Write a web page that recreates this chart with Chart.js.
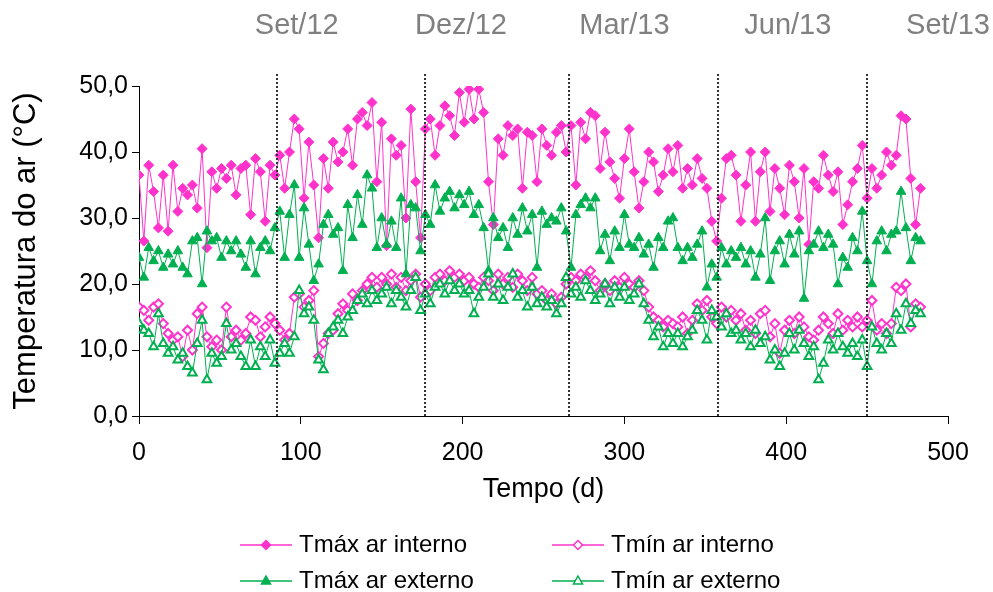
<!DOCTYPE html>
<html>
<head>
<meta charset="utf-8">
<script src="https://cdn.jsdelivr.net/npm/chart.js"></script>
<style>
  html, body { margin: 0; padding: 0; background: #fff; }
  #caixa { width: 993px; height: 592px; position: relative; }
</style>
</head>
<body>
<div id="caixa"><canvas id="grafico"></canvas></div>
<script>
// dias desde o início (amostra a cada 3 dias)
const dias = [
  0,3,6,9,12,15,18,21,24,27,
  30,33,36,39,42,45,48,51,54,57,
  60,63,66,69,72,75,78,81,84,87,
  90,93,96,99,102,105,108,111,114,117,
  120,123,126,129,132,135,138,141,144,147,
  150,153,156,159,162,165,168,171,174,177,
  180,183,186,189,192,195,198,201,204,207,
  210,213,216,219,222,225,228,231,234,237,
  240,243,246,249,252,255,258,261,264,267,
  270,273,276,279,282,285,288,291,294,297,
  300,303,306,309,312,315,318,321,324,327,
  330,333,336,339,342,345,348,351,354,357,
  360,363,366,369,372,375,378,381,384,387,
  390,393,396,399,402,405,408,411,414,417,
  420,423,426,429,432,435,438,441,444,447,
  450,453,456,459,462,465,468,471,474,477,
  480,483
];

// temperatura máxima do ar interno (°C)
const tmaxInterno = [
  36.5,26.5,38.0,34.0,28.5,36.5,28.0,38.0,31.0,34.5,
  33.5,35.0,31.5,40.5,25.5,37.0,34.5,37.5,36.0,38.0,
  33.5,37.5,38.0,30.5,39.0,37.0,29.5,38.0,36.5,39.5,
  34.5,40.0,45.0,43.5,33.0,41.5,35.0,27.0,39.0,34.5,
  41.5,38.5,40.0,43.5,38.0,45.0,46.0,44.0,47.5,35.5,
  44.5,25.8,42.0,39.5,41.0,30.0,46.5,35.5,27.0,43.5,
  45.0,39.5,44.0,47.0,45.5,42.5,49.0,44.5,49.5,45.0,
  49.5,46.0,35.5,29.0,42.0,39.5,44.0,42.5,43.5,34.5,
  43.0,42.5,35.5,43.5,41.0,39.5,43.0,44.0,40.0,44.0,
  35.0,44.5,42.0,46.0,45.5,37.5,43.0,38.5,36.0,33.0,
  39.0,43.5,37.0,31.5,35.5,40.0,38.5,34.0,36.5,40.5,
  37.0,41.0,34.5,37.5,35.0,39.0,36.0,34.5,29.5,26.5,
  33.0,39.0,39.5,36.5,29.5,35.0,40.0,29.5,37.0,40.0,
  31.0,37.5,34.5,30.5,38.0,35.5,30.0,37.5,26.0,35.5,
  34.5,39.5,36.5,34.0,37.0,29.0,32.0,35.5,37.5,41.0,
  33.0,37.5,34.5,36.5,40.0,38.0,39.5,45.5,45.0,36.0,
  29.0,34.5
];

// temperatura mínima do ar interno (°C)
const tminInterno = [
  16.5,16.0,14.5,16.5,17.0,14.0,12.5,11.5,12.0,9.0,
  13.0,10.0,15.5,16.5,12.0,10.5,11.5,10.0,16.5,12.0,
  13.0,11.5,12.5,15.0,14.5,12.0,13.5,15.0,14.0,13.0,
  11.5,12.5,18.0,18.5,16.5,17.5,19.0,9.0,11.0,12.5,
  13.0,15.5,17.0,16.0,18.5,17.5,19.0,20.0,21.0,19.5,
  21.0,20.0,21.5,19.5,21.0,19.0,20.5,21.5,18.0,20.0,
  19.0,21.0,21.5,20.5,22.0,21.0,21.5,20.5,21.0,20.0,
  19.5,21.0,20.5,19.0,21.5,20.0,21.0,19.5,21.5,20.5,
  19.0,21.0,18.5,19.0,17.5,18.5,17.0,18.0,20.0,21.0,
  20.5,21.5,21.0,22.0,20.5,19.0,20.0,19.0,20.5,19.5,
  21.0,20.0,19.5,20.5,19.0,16.5,15.0,14.5,13.5,14.5,
  14.0,13.5,15.0,12.5,14.5,17.0,16.0,17.5,15.0,14.0,
  16.5,15.0,16.0,14.5,15.5,13.0,14.5,12.5,15.5,16.0,
  12.0,14.0,9.5,13.0,14.5,12.5,15.0,13.5,12.0,11.5,
  13.0,15.0,14.0,12.5,15.5,13.0,14.5,13.5,15.0,13.5,
  14.5,17.5,13.0,14.0,12.5,14.0,19.5,19.0,20.0,13.5,
  17.0,16.5
];

// temperatura máxima do ar externo (°C)
const tmaxExterno = [
  24.0,21.0,25.5,23.5,25.0,22.5,24.5,23.0,25.0,22.5,
  21.5,26.5,27.0,20.0,28.0,26.5,27.0,24.0,26.5,25.0,
  26.5,24.5,22.5,26.5,21.5,25.5,26.5,25.0,28.5,31.0,
  24.0,30.5,35.0,24.0,31.5,26.0,20.5,23.0,29.0,30.5,
  27.5,28.5,22.0,32.0,27.0,33.5,29.0,36.5,34.5,25.5,
  30.0,26.0,29.5,25.5,33.0,21.5,32.0,31.5,25.0,30.5,
  29.0,35.0,31.0,33.0,34.0,31.5,33.5,32.0,34.0,30.5,
  32.0,28.5,22.0,30.0,27.0,28.5,25.5,30.0,27.5,31.5,
  28.0,30.5,22.5,31.0,29.0,30.0,29.5,31.5,28.0,22.5,
  30.5,32.0,33.0,31.5,33.0,25.0,27.5,23.5,28.0,25.5,
  30.5,26.0,25.5,27.0,24.5,26.0,22.5,27.0,25.5,29.5,
  30.0,25.5,23.5,25.5,24.0,26.0,28.0,19.5,23.0,21.0,
  25.5,23.0,25.0,24.0,25.5,23.0,25.0,21.0,24.5,30.0,
  20.5,25.0,26.5,23.0,27.5,24.5,28.0,17.8,25.0,26.0,
  28.0,25.5,27.5,26.0,20.0,24.0,22.5,27.0,25.0,31.0,
  23.5,20.0,26.5,28.0,25.0,27.5,28.0,34.0,28.5,23.5,
  27.0,26.5
];

// temperatura mínima do ar externo (°C)
const tminExterno = [
  14.0,13.0,12.5,10.5,15.5,11.0,9.5,10.5,8.5,9.5,
  7.5,6.5,11.0,14.5,5.5,9.5,8.0,9.0,14.0,10.0,
  11.0,9.0,7.5,11.5,7.5,10.5,9.0,11.5,8.0,9.5,
  11.0,9.5,12.0,19.0,15.5,16.5,14.5,8.5,7.0,12.5,
  13.5,14.5,12.5,15.0,16.0,17.5,18.5,17.0,19.0,17.5,
  18.5,19.5,17.0,19.0,18.0,16.5,19.0,21.0,16.0,18.5,
  17.0,19.5,20.0,18.5,20.5,19.0,20.0,18.5,19.0,15.5,
  18.0,19.5,21.5,18.0,20.0,17.5,19.5,21.5,18.0,19.0,
  16.5,19.5,17.0,18.0,16.5,17.5,15.5,17.0,21.0,18.5,
  19.5,18.0,20.5,19.0,17.5,18.5,20.0,17.0,19.5,18.0,
  19.5,17.5,18.5,20.0,17.0,14.5,12.0,13.5,10.5,12.5,
  11.0,12.5,10.5,12.0,13.0,16.0,14.5,11.5,16.0,15.0,
  13.5,15.5,12.5,13.0,11.5,12.5,10.5,13.0,11.0,12.0,
  8.5,10.0,7.5,9.5,12.5,10.0,13.0,11.0,9.0,10.5,
  5.5,8.0,11.5,10.0,12.5,10.5,9.5,11.0,9.0,11.5,
  7.5,13.5,11.0,10.0,12.5,11.0,15.5,13.0,17.0,14.0,
  16.0,15.5
];

// linhas pontilhadas de mudança de estação e os rótulos de cima
const marcosDias = [85.5, 176.5, 266, 358, 450];
const rotulosTopo = ['Set/12', 'Dez/12', 'Mar/13', 'Jun/13', 'Set/13'];
const rotulosTopoDias = [97.5, 199, 300, 401, 500];

const ROSA = '#ff33cc';
const VERDE = '#00b050';
const FONTE = '"Liberation Sans", Arial, sans-serif';

function pares(serie){
  return dias.map((d, i) => ({ x: d, y: serie[i] }));
}

// desenha um marcador pequeno para a legenda
function marcador(ctx, tipo, cor, cheio, x, y){
  ctx.save();
  ctx.beginPath();
  if(tipo === 'losango'){
    var r = 4.5;
    ctx.moveTo(x, y - r); ctx.lineTo(x + r, y); ctx.lineTo(x, y + r); ctx.lineTo(x - r, y);
  } else {
    var r = 5;
    ctx.moveTo(x, y - r); ctx.lineTo(x + r * 0.9, y + r * 0.6); ctx.lineTo(x - r * 0.9, y + r * 0.6);
  }
  ctx.closePath();
  ctx.fillStyle = cheio ? cor : '#fff';
  ctx.fill();
  ctx.lineWidth = 1.5;
  ctx.strokeStyle = cor;
  ctx.stroke();
  ctx.restore();
}

const extras = {
  id: 'extras',
  afterDatasetsDraw(chart){
    const ctx = chart.ctx;
    const sx = chart.scales.x;
    const area = chart.chartArea;

    // linhas verticais pontilhadas
    ctx.save();
    ctx.strokeStyle = '#333';
    ctx.lineWidth = 2;
    ctx.setLineDash([2, 2]);
    marcosDias.forEach(function(d){
      const px = Math.round(sx.getPixelForValue(d));
      ctx.beginPath();
      ctx.moveTo(px, area.top - 12);
      ctx.lineTo(px, area.bottom);
      ctx.stroke();
    });
    ctx.restore();

    // rótulos dos meses no topo
    ctx.save();
    ctx.fillStyle = '#808080';
    ctx.font = '29px ' + FONTE;
    ctx.textAlign = 'center';
    ctx.textBaseline = 'middle';
    rotulosTopo.forEach(function(t, i){
      ctx.fillText(t, sx.getPixelForValue(rotulosTopoDias[i]), 26);
    });
    ctx.restore();

    // legenda em duas colunas
    const itens = [
      { nome: 'Tmáx ar interno', cor: ROSA, tipo: 'losango', cheio: true,  x: 240, y: 545 },
      { nome: 'Tmín ar interno', cor: ROSA, tipo: 'losango', cheio: false, x: 552, y: 545 },
      { nome: 'Tmáx ar externo', cor: VERDE, tipo: 'triangulo', cheio: true,  x: 240, y: 581 },
      { nome: 'Tmín ar externo', cor: VERDE, tipo: 'triangulo', cheio: false, x: 552, y: 581 }
    ];
    ctx.save();
    ctx.font = '24px ' + FONTE;
    ctx.textBaseline = 'middle';
    itens.forEach(function(it){
      ctx.strokeStyle = it.cor;
      ctx.lineWidth = 1.5;
      ctx.beginPath();
      ctx.moveTo(it.x, it.y);
      ctx.lineTo(it.x + 52, it.y);
      ctx.stroke();
      marcador(ctx, it.tipo, it.cor, it.cheio, it.x + 26, it.y);
      ctx.fillStyle = '#000';
      ctx.fillText(it.nome, it.x + 59, it.y);
    });
    ctx.restore();
  }
};

new Chart(document.getElementById('grafico'), {
  type: 'line',
  data: {
    datasets: [
      {
        label: 'Tmáx ar interno', data: pares(tmaxInterno), order: 4,
        borderColor: ROSA, backgroundColor: ROSA, borderWidth: 1,
        pointStyle: 'rectRot', pointRadius: 5, pointBorderWidth: 1,
        pointBackgroundColor: ROSA, pointBorderColor: ROSA
      },
      {
        label: 'Tmín ar interno', data: pares(tminInterno), order: 3,
        borderColor: ROSA, backgroundColor: '#fff', borderWidth: 1,
        pointStyle: 'rectRot', pointRadius: 4.5, pointBorderWidth: 2,
        pointBackgroundColor: '#fff', pointBorderColor: ROSA
      },
      {
        label: 'Tmáx ar externo', data: pares(tmaxExterno), order: 2,
        borderColor: VERDE, backgroundColor: VERDE, borderWidth: 1,
        pointStyle: 'triangle', pointRadius: 5.5, pointBorderWidth: 1,
        pointBackgroundColor: VERDE, pointBorderColor: VERDE
      },
      {
        label: 'Tmín ar externo', data: pares(tminExterno), order: 1,
        borderColor: VERDE, backgroundColor: '#fff', borderWidth: 1,
        pointStyle: 'triangle', pointRadius: 5, pointBorderWidth: 2,
        pointBackgroundColor: '#fff', pointBorderColor: VERDE
      }
    ]
  },
  options: {
    responsive: true,
    maintainAspectRatio: false,
    animation: false,
    layout: { padding: { top: 86, right: 45, bottom: 86, left: 0 } },
    plugins: { legend: { display: false }, tooltip: { enabled: false } },
    scales: {
      x: {
        type: 'linear', min: 0, max: 500,
        afterFit: function(s){ s.height = 90; },
        border: { display: true, color: '#000', width: 1 },
        grid: { display: true, drawOnChartArea: false, drawTicks: true, tickLength: 8, color: '#000' },
        ticks: { stepSize: 100, color: '#000', padding: 14, maxRotation: 0,
                 font: { family: FONTE, size: 25 } },
        title: { display: true, text: 'Tempo (d)', color: '#000', padding: { top: 0, bottom: 0 },
                 font: { family: FONTE, size: 27 } }
      },
      y: {
        min: 0, max: 50,
        afterFit: function(s){ s.width = 139; },
        border: { display: true, color: '#000', width: 1 },
        grid: { display: true, drawOnChartArea: false, drawTicks: true, tickLength: 7, color: '#000' },
        ticks: { stepSize: 10, color: '#000', padding: 4,
                 font: { family: FONTE, size: 25 },
                 callback: function(v){ return v.toFixed(1).replace('.', ','); } },
        title: { display: true, text: 'Temperatura do ar (°C)', color: '#000', padding: { top: 8, bottom: 0 },
                 font: { family: FONTE, size: 31 } }
      }
    }
  },
  plugins: [extras]
});
</script>
</body>
</html>
